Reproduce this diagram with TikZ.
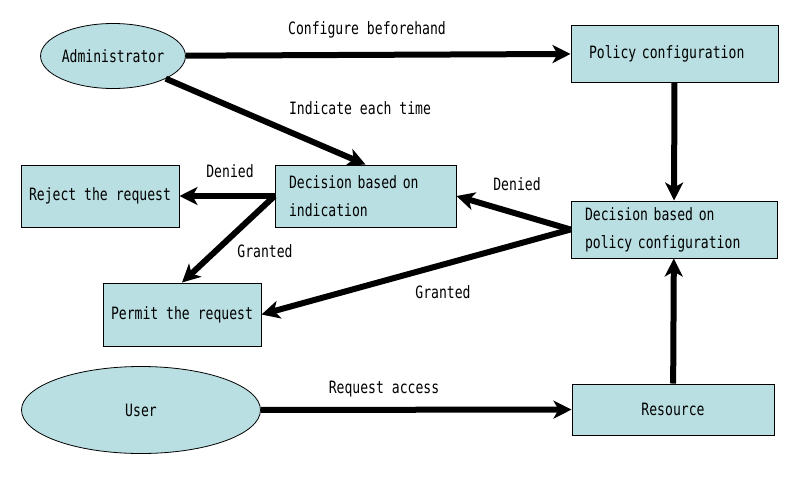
\documentclass[tikz,border=0pt]{standalone}
\usepackage{fontspec}
\newfontfamily\gothic[FakeStretch=0.77]{DejaVu Sans Mono}
\usepackage{xcolor}
\usetikzlibrary{arrows.meta,shapes.geometric}
\definecolor{boxblue}{RGB}{185,223,226}

\tikzset{
	box/.style={draw, line width=1pt, fill=boxblue, inner ysep=0pt,
		font=\gothic\fontsize{17}{28}\selectfont},
	actor/.style={ellipse, draw, line width=0.8pt, fill=boxblue, inner sep=0pt,
		font=\gothic\fontsize{17}{20}\selectfont},
	flow/.style={line width=6pt, -{Stealth[length=18pt,width=18pt,inset=5pt]}},
	lbl/.style={font=\gothic\fontsize{17}{20}\selectfont, inner sep=0pt}
}

\begin{document}
\begin{tikzpicture}[x=1pt,y=-1pt]
	\useasboundingbox (0,0) rectangle (800,480);
	
	\node[actor, minimum width=121, minimum height=65] (admin) at (113,56) {Administrator};
	\node[actor, minimum width=239, minimum height=87] (user) at (141,410) {User};
	
	\node[box, text width=171, inner xsep=18, align=left, minimum height=57] (policy) at (674.5,53.5) {Policy configuration};
	\node[box, text width=153, inner xsep=14, align=left, minimum height=62] (decind) at (365.5,196) {Decision based on\\indication};
	\node[box, text width=178, inner xsep=14, align=left, minimum height=57] (decpol) at (674,229.5) {Decision based on\\policy configuration};
	\node[box, minimum width=158, minimum height=62] (reject) at (100,196) {Reject the request};
	\node[box, minimum width=158, minimum height=63] (permit) at (182,314.5) {Permit the request};
	\node[box, minimum width=202, minimum height=51] (resource) at (673,409.5) {Resource};
	
	\draw[flow] (admin) -- (policy);
	\draw[flow] (admin) -- (decind.north);
	\draw[flow] (policy) -- (decpol);
	\draw[flow] (decpol.west) -- (decind.east);
	\draw[flow] (decpol.west) -- (permit.east);
	\draw[flow] (decind.west) -- (reject.east);
	\draw[flow] (decind.west) -- (permit.north);
	\draw[flow] (resource) -- (decpol);
	\draw[flow] (user) -- (resource);
	
	\node[lbl] (lconf) at (367,30) {Configure beforehand};
	\node[lbl] (lind) at (360,108) {Indicate each time};
	\node[lbl] (ldenl) at (230,171) {Denied};
	\node[lbl] (ldenr) at (517,184) {Denied};
	\node[lbl] (lgranl) at (265,251) {Granted};
	\node[lbl] (lgranr) at (443,292) {Granted};
	\node[lbl] (lreq) at (384,389) {Request access};
\end{tikzpicture}
\end{document}
